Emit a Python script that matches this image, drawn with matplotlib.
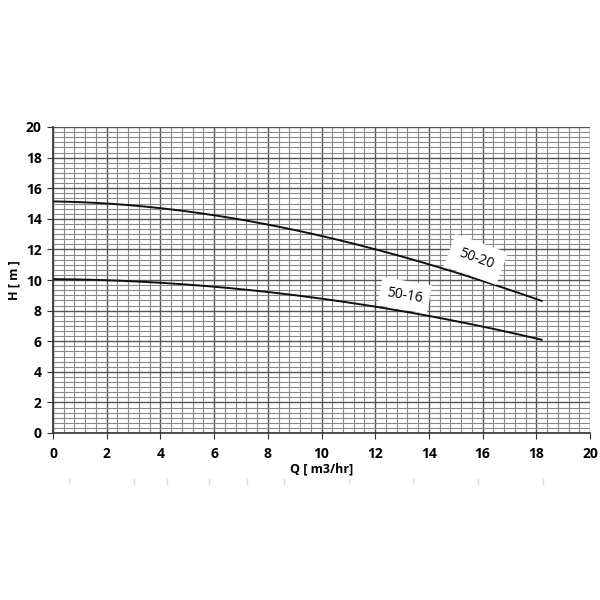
import matplotlib
matplotlib.use("Agg")
import matplotlib.pyplot as plt
import numpy as np
from matplotlib.ticker import MultipleLocator
from matplotlib.lines import Line2D

q_5020 = [0, 2, 4, 6, 8, 10, 12, 14, 16, 18.2]
h_5020 = [15.15, 14.97, 14.7, 14.25, 13.6, 12.9, 12.0, 11.05, 9.9, 8.65]
q_5016 = [0, 2, 4, 6, 8, 10, 12, 14, 16, 18.2]
h_5016 = [10.05, 10.02, 9.8, 9.54, 9.2, 8.8, 8.3, 7.65, 6.9, 6.12]
xticks = [0, 2, 4, 6, 8, 10, 12, 14, 16, 18, 20]
yticks = [0, 2, 4, 6, 8, 10, 12, 14, 16, 18, 20]

plt.rcParams['font.family'] = ['Open Sans', 'DejaVu Sans']
fig = plt.figure(figsize=(6, 6), dpi=100)
ax = fig.add_axes([53/600, 1-433/600, (590-53)/600, (433-127)/600])
ax.set_xlim(0, 20)
ax.set_ylim(0, 20)
ax.set_xticks(xticks)
ax.set_yticks(yticks)
ax.xaxis.set_minor_locator(MultipleLocator(0.4))
ax.yaxis.set_minor_locator(MultipleLocator(1/3))
ax.grid(which='major', color='#555555', linewidth=1.0)
ax.grid(which='minor', color='#8a8a8a', linewidth=0.8)
ax.set_axisbelow(True)
for s in ['top', 'right']:
    ax.spines[s].set_visible(False)
for s in ['left', 'bottom']:
    ax.spines[s].set_color('#333333')
    ax.spines[s].set_linewidth(1.2)
ax.tick_params(which='major', direction='out', length=4, color='#333333',
               labelsize=10)
ax.tick_params(axis='x', which='major', pad=6)
ax.tick_params(axis='y', which='major', pad=4)
ax.tick_params(which='minor', length=0)
for lab in ax.get_xticklabels() + ax.get_yticklabels():
    lab.set_fontweight('bold')

def smooth(xs, ys):
    xs = np.asarray(xs, float); ys = np.asarray(ys, float)
    c = np.polyfit(xs, ys, 3)
    xx = np.linspace(xs[0], xs[-1], 200)
    return xx, np.polyval(c, xx)

xx, yy = smooth(q_5020, h_5020)
ax.plot(xx, yy, color='#111111', linewidth=1.4)
xx, yy = smooth(q_5016, h_5016)
ax.plot(xx, yy, color='#111111', linewidth=1.4)

ax.text(15.75, 11.35, '50-20', rotation=-20, fontsize=10, ha='center', va='center',
        bbox=dict(boxstyle='square,pad=0.7', fc='white', ec='none'))
ax.text(13.1, 9.0, '50-16', rotation=-10, fontsize=10, ha='center', va='center',
        bbox=dict(boxstyle='square,pad=0.5', fc='white', ec='none'))

ax.set_xlabel('Q [ m3/hr]', fontsize=9, fontweight='bold', labelpad=1)
ax.set_ylabel('H [ m ]', fontsize=9, fontweight='bold', labelpad=4)

# faint scan marks below the chart
for px in [69, 134, 167, 209, 247, 284, 349, 413, 478, 543]:
    fig.add_artist(Line2D([px/600, px/600], [1-479/600, 1-484/600],
                          color='#dcdcdc', linewidth=1.0))

fig.savefig('out.png', dpi=100, facecolor='white')
